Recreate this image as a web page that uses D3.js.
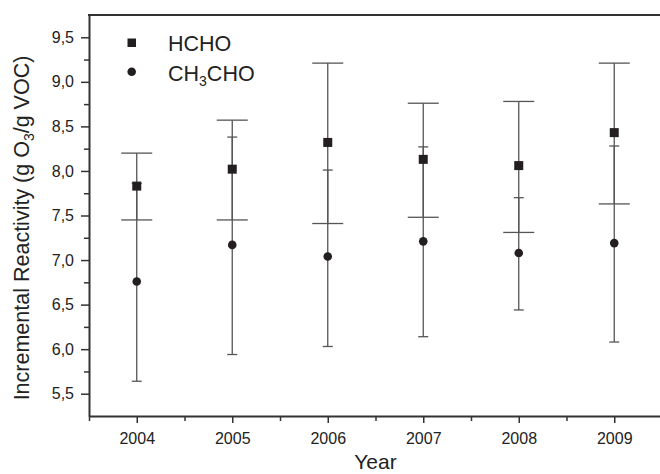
<!DOCTYPE html>
<html>
<head>
<meta charset="utf-8">
<script src="https://cdn.jsdelivr.net/npm/d3@7"></script>
<style>
  html, body { margin: 0; background: #fff; overflow: hidden; }
  svg { display: block; font-family: "Liberation Sans", Arial, sans-serif; }
</style>
</head>
<body>
<svg id="chart" width="660" height="474"></svg>
<script>
// values
const years = [2004, 2005, 2006, 2007, 2008, 2009];

const hcho = [7.83, 8.02, 8.32, 8.13, 8.06, 8.43];
const hchoHigh = [8.2, 8.57, 9.21, 8.76, 8.78, 9.21];
const hchoLow = [7.45, 7.45, 7.41, 7.48, 7.31, 7.63];

const ch3cho = [6.76, 7.17, 7.04, 7.21, 7.08, 7.19];
const ch3choHigh = [7.86, 8.38, 8.01, 8.27, 7.7, 8.28];
const ch3choLow = [5.64, 5.94, 6.03, 6.14, 6.44, 6.08];

const yTicks = [5.5, 6.0, 6.5, 7.0, 7.5, 8.0, 8.5, 9.0, 9.5];
const yMinor = [5.75, 6.25, 6.75, 7.25, 7.75, 8.25, 8.75, 9.25];
const xMinor = [2003.5, 2004.5, 2005.5, 2006.5, 2007.5, 2008.5];

const svg = d3.select("#chart");
const axisColor = "#333";
const markColor = "#231f20";
const barColor = "#555";

// plot frame (right edge falls just outside the picture)
const plotL = 89, plotR = 662, plotT = 15, plotB = 416;

const x = d3.scaleLinear().domain([2003.5, 2009.5]).range([plotL, plotR]);
const y = d3.scaleLinear().domain([5.25, 9.75]).range([plotB, plotT]);

const fmt = (d) => d3.format(".1f")(d).replace(".", ",");

// minor ticks first, no labels
svg.append("g")
  .attr("transform", `translate(${plotL},0)`)
  .call(d3.axisLeft(y).tickValues(yMinor).tickSize(5).tickSizeOuter(0).tickFormat(""))
  .call((g) => g.select(".domain").remove());

svg.append("g")
  .attr("transform", `translate(0,${plotB})`)
  .call(d3.axisBottom(x).tickValues(xMinor).tickSize(5).tickSizeOuter(0).tickFormat(""))
  .call((g) => g.select(".domain").remove());

const yAxis = svg.append("g")
  .attr("transform", `translate(${plotL},0)`)
  .call(d3.axisLeft(y).tickValues(yTicks).tickSize(8).tickPadding(7).tickSizeOuter(0).tickFormat(fmt));

const xAxis = svg.append("g")
  .attr("transform", `translate(0,${plotB})`)
  .call(d3.axisBottom(x).tickValues(years).tickSize(7).tickPadding(10).tickSizeOuter(0).tickFormat(d3.format("d")));

[yAxis, xAxis].forEach((g) => {
  g.select(".domain").attr("stroke", axisColor).attr("stroke-width", 2);
  g.selectAll("text").attr("fill", "#222").style("font-size", "16px");
});
svg.selectAll(".tick line").attr("stroke", axisColor).attr("stroke-width", 1.5);

// top border
svg.append("line")
  .attr("x1", plotL - 1).attr("x2", plotR)
  .attr("y1", plotT).attr("y2", plotT)
  .attr("stroke", axisColor).attr("stroke-width", 2);

// error bars
const drawBars = (lo, hi, capW) => {
  const g = svg.append("g").attr("stroke", barColor).attr("stroke-width", 1.3);
  years.forEach((yr, i) => {
    g.append("line")
      .attr("x1", x(yr)).attr("x2", x(yr))
      .attr("y1", y(lo[i])).attr("y2", y(hi[i]));
    [lo[i], hi[i]].forEach((v) => {
      g.append("line")
        .attr("x1", x(yr) - capW / 2).attr("x2", x(yr) + capW / 2)
        .attr("y1", y(v)).attr("y2", y(v));
    });
  });
};
drawBars(hchoLow, hchoHigh, 31);
drawBars(ch3choLow, ch3choHigh, 10);

// markers
svg.append("g")
  .selectAll("rect")
  .data(years)
  .join("rect")
  .attr("x", (d) => x(d) - 4.5)
  .attr("y", (d, i) => y(hcho[i]) - 4.5)
  .attr("width", 9)
  .attr("height", 9)
  .attr("fill", markColor);

svg.append("g")
  .selectAll("circle")
  .data(years)
  .join("circle")
  .attr("cx", (d) => x(d))
  .attr("cy", (d, i) => y(ch3cho[i]))
  .attr("r", 4.3)
  .attr("fill", markColor);

// legend
svg.append("rect")
  .attr("x", 127.5).attr("y", 38.5)
  .attr("width", 8.5).attr("height", 8.5)
  .attr("fill", markColor);
svg.append("text")
  .attr("x", 168).attr("y", 51)
  .attr("fill", "#222")
  .style("font-size", "21.5px")
  .text("HCHO");

svg.append("circle")
  .attr("cx", 131.7).attr("cy", 71.7).attr("r", 4.3)
  .attr("fill", markColor);
const leg2 = svg.append("text")
  .attr("x", 168).attr("y", 81)
  .attr("fill", "#222")
  .style("font-size", "21.5px");
leg2.append("tspan").text("CH");
leg2.append("tspan").attr("dy", 5).style("font-size", "14px").text("3");
leg2.append("tspan").attr("dy", -5).text("CHO");

// axis titles
const yTitle = svg.append("text")
  .attr("transform", "translate(29,228) rotate(-90)")
  .attr("text-anchor", "middle")
  .attr("fill", "#222")
  .style("font-size", "21.5px");
yTitle.append("tspan").text("Incremental Reactivity (g O");
yTitle.append("tspan").attr("dy", 5).style("font-size", "14px").text("3");
yTitle.append("tspan").attr("dy", -5).text("/g VOC)");

svg.append("text")
  .attr("x", (plotL + plotR) / 2)
  .attr("y", 469)
  .attr("text-anchor", "middle")
  .attr("fill", "#222")
  .style("font-size", "21px")
  .text("Year");
</script>
</body>
</html>
